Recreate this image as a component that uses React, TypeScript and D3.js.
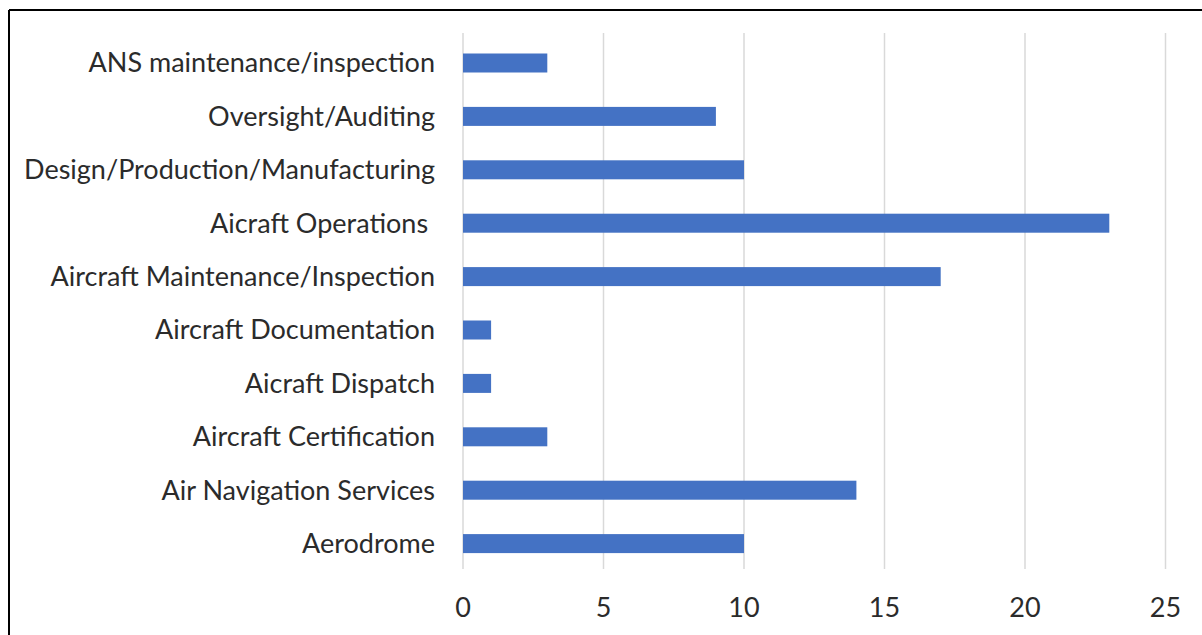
import React from "react";
import * as d3 from "d3";

const categories = [
  "ANS maintenance/inspection",
  "Oversight/Auditing",
  "Design/Production/Manufacturing",
  "Aicraft Operations ",
  "Aircraft Maintenance/Inspection",
  "Aircraft Documentation",
  "Aicraft Dispatch",
  "Aircraft Certification",
  "Air Navigation Services",
  "Aerodrome",
];
const values = [3, 9, 10, 23, 17, 1, 1, 3, 14, 10];
const xTicks = [0, 5, 10, 15, 20, 25];

const W = 1202;
const H = 635;
const FONT = "Lato, 'Open Sans', sans-serif";

export default function App() {
  const x = d3.scaleLinear().domain([0, 25]).range([463, 1165.5]);
  const y = d3.scaleBand<string>().domain(categories).range([36.3, 570.3]).paddingInner(0.64).paddingOuter(0.32);
  const barH = 19;
  return (
    <svg width={W} height={H} style={{ position: "absolute", left: 0, top: 0 }}>
      <rect x={0} y={0} width={W} height={H} fill="#fff" />
      <line x1={9} y1={10} x2={W} y2={10} stroke="#000" strokeWidth={2} />
      <line x1={9} y1={10} x2={9} y2={H} stroke="#000" strokeWidth={2} />
      {xTicks.map((t) => (
        <line key={"g" + t} x1={x(t)} x2={x(t)} y1={33} y2={569} stroke="#d9d9d9" strokeWidth={1.5} />
      ))}
      {categories.map((c, i) => {
        const cy = (y(c) as number) + y.bandwidth() / 2;
        return (
          <g key={c}>
            <rect x={x(0)} y={cy - barH / 2} width={x(values[i]) - x(0)} height={barH} fill="#4472C4" />
            <text x={435} y={cy} dy="0.35em" textAnchor="end" fontFamily={FONT} fontSize={27} fill="#2b2b2b" style={{ whiteSpace: "pre" }}>
              {c}
            </text>
          </g>
        );
      })}
      {xTicks.map((t) => (
        <text key={"t" + t} x={x(t)} y={608} dy="0.35em" textAnchor="middle" fontFamily={FONT} fontSize={27} fill="#2b2b2b">
          {t}
        </text>
      ))}
    </svg>
  );
}
